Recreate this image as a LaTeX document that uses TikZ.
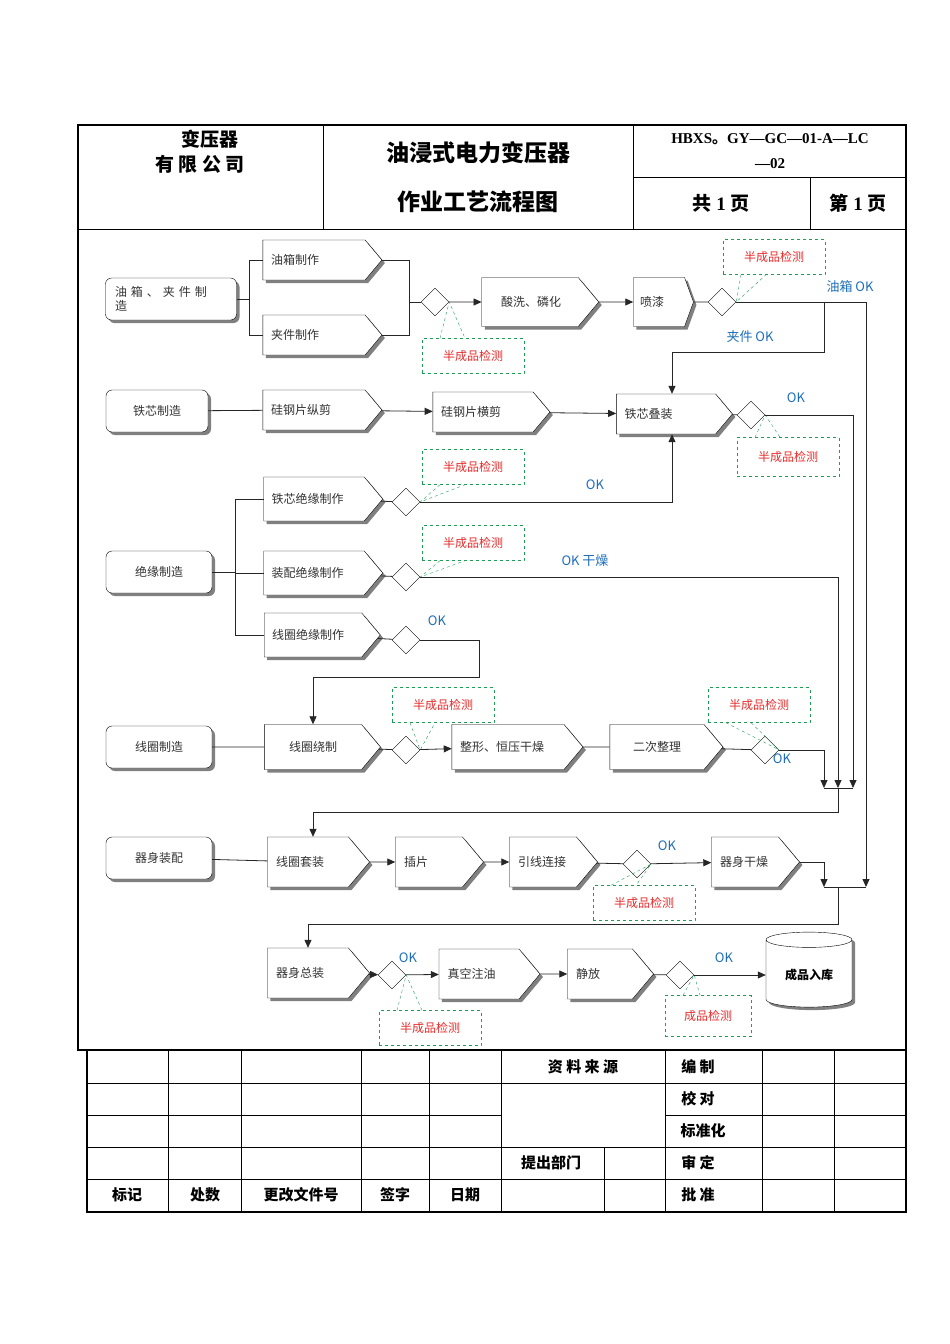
\documentclass[tikz,border=0pt]{standalone}
\usepackage{fontspec}
\setmainfont{Noto Sans CJK SC}
\newfontfamily\serifl{Liberation Serif}
\usetikzlibrary{shapes.symbols,shapes.geometric,shadows,arrows.meta}
\definecolor{okblue}{RGB}{30,110,185}
\definecolor{chkred}{RGB}{230,45,45}
\definecolor{chkgreen}{RGB}{30,155,85}
\newcommand{\fs}{\fontsize{12}{14}\selectfont}
\newcommand{\ptr}[3]{\draw[chk] ([xshift=-33]#1.#3) -- (#2.east) -- ([xshift=-8]#1.#3);}
\tikzset{
    proc/.style={signal, signal to=east, signal pointer angle=100, draw, fill=white,
        drop shadow={shadow xshift=3pt, shadow yshift=-3pt, fill=black!50, opacity=1},
        font=\fs, text=black!80, minimum height=42, align=left, inner xsep=3, xshift=-8},
    start/.style={draw, rounded corners=6, fill=white, font=\fs, text=black!80,
        drop shadow={shadow xshift=3pt, shadow yshift=-3pt, fill=black!50, opacity=1},
        minimum height=42, align=left},
    gate/.style={diamond, draw, fill=white, minimum width=28, minimum height=28, inner sep=0},
    chkbox/.style={draw=chkgreen, dashed, fill=white, text=chkred, font=\fs, minimum width=102, minimum height=35},
    chk/.style={draw=chkgreen, dashed},
    ok/.style={text=okblue, font=\fontsize{13}{15}\selectfont},
    ln/.style={draw=black!85, line width=0.8},
    arr/.style={ln, -{Triangle[length=8,width=7]}},
    hd/.style={font=\bfseries\fontsize{19}{21}\selectfont},
    tb/.style={font=\bfseries\fontsize{15}{17}\selectfont},
}
\begin{document}
\begin{tikzpicture}[x=1pt,y=-1pt]
\useasboundingbox (0,0) rectangle (950,1344);
% header and frame
\draw[line width=1.2] (78,125) rectangle (906,1050);
\draw[line width=0.8] (78,229) -- (906,229);
\draw[line width=0.8] (323,125) -- (323,229) (633,125) -- (633,229) (633,177) -- (906,177) (810,177) -- (810,229);
\node[hd] (co1) at (210,139) {变压器};
\node[hd] (co2) at (200,164) {有 限 公 司};
\node[font=\bfseries\fontsize{23}{25}\selectfont] (ti1) at (478,153) {油浸式电力变压器};
\node[font=\bfseries\fontsize{23}{25}\selectfont] (ti2) at (478,202) {作业工艺流程图};
\node[font=\bfseries\fontsize{15}{17}\selectfont] (no1) at (770,139) {{\serifl HBXS}。{\serifl GY—GC—01-A—LC}};
\node[font=\bfseries\fontsize{15}{17}\selectfont] (no2) at (770,164) {{\serifl —02}};
\node[font=\bfseries\fontsize{19}{21}\selectfont] (pg1) at (721,203) {共 {\serifl 1} 页};
\node[font=\bfseries\fontsize{19}{21}\selectfont] (pg2) at (858,203) {第 {\serifl 1} 页};

% row 1: tank and clamp
\node[start, minimum width=131, text width=112] (A) at (171,299) {油 箱 、 夹 件 制\\造};
\node[proc, minimum width=119, minimum height=40, text width=86] (p1) at (322,260) {油箱制作};
\node[proc, minimum width=119, minimum height=40, text width=86] (p2) at (322,335) {夹件制作};
\node[gate] (d1) at (435,302) {};
\node[proc, minimum width=117, minimum height=49, text width=82] (q1) at (538,302) {\quad 酸洗、磷化};
\node[proc, minimum width=60, minimum height=49, signal pointer angle=140, text width=38] (q2) at (667,302) {喷漆};
\node[gate] (d2) at (722,302) {};
\node[chkbox] (c1) at (473,356) {半成品检测};
\node[chkbox] (c2) at (774,257) {半成品检测};
\coordinate (s1) at (249,299);
\coordinate (j1) at (409,302);
\draw[ln] (A.east) -- (s1);
\draw[ln] (s1) |- (p1.west);
\draw[ln] (s1) |- (p2.west);
\draw[ln] (p1.east) -| (j1);
\draw[ln] (p2.east) -| (j1) -- (d1.west);
\draw[arr] (d1) -- (q1);
\draw[arr] (q1) -- (q2);
\draw[ln] (q2) -- (d2);
\ptr{c1}{d1}{north}
\ptr{c2}{d2}{south}
\node[ok] (l1) at (850,287) {油箱 OK};
\node[ok] (l2) at (750,337) {夹件 OK};

% row 2: core
\node[start, minimum width=102] (B) at (157,411) {铁芯制造};
\node[proc, minimum width=119, minimum height=40, text width=86] (k1) at (322,410) {硅钢片纵剪};
\node[proc, minimum width=117, minimum height=40, text width=84] (k2) at (491,412) {硅钢片横剪};
\node[proc, minimum width=116, minimum height=40, text width=83] (k3) at (674,414) {铁芯叠装};
\node[gate] (d3) at (751,415) {};
\node[chkbox, minimum height=39] (c3) at (788,457) {半成品检测};
\draw[ln] (B) -- (k1);
\draw[arr] (k1) -- (k2);
\draw[arr] (k2) -- (k3);
\draw[ln] (k3) -- (d3);
\ptr{c3}{d3}{north}
\node[ok] (l3) at (796,398) {OK};
\draw[arr] (d2.east) -| (824,352) -| ([xshift=6]k3.north);

% row 3: insulation
\node[start, minimum width=106] (C) at (159,572) {绝缘制造};
\node[proc, minimum width=119, minimum height=44, text width=85] (n1) at (322,499) {铁芯绝缘制作};
\node[proc, minimum width=119, minimum height=44, text width=85] (n2) at (322,573) {装配绝缘制作};
\node[proc, minimum width=116, minimum height=44, text width=82] (n3) at (321,635) {线圈绝缘制作};
\node[gate] (d4) at (406,502) {};
\node[gate] (d5) at (406,577) {};
\node[gate] (d6) at (406,640) {};
\node[chkbox] (c4) at (473,467) {半成品检测};
\node[chkbox] (c5) at (473,543) {半成品检测};
\coordinate (s3) at (235,572);
\draw[ln] (C.east) -- (s3);
\draw[ln] (s3) |- (n1.west);
\draw[ln] (s3) |- (n2.west);
\draw[ln] (s3) |- (n3.west);
\draw[ln] (n1) -- (d4);
\draw[ln] (n2) -- (d5);
\draw[ln] (n3) -- (d6);
\ptr{c4}{d4}{south}
\ptr{c5}{d5}{south}
\node[ok] (l4) at (595,485) {OK};
\node[ok] (l5) at (585,561) {OK 干燥};
\node[ok] (l6) at (437,621) {OK};
\draw[arr] (d4.east) -| ([xshift=6]k3.south);

% row 4: coil
\node[start, minimum width=106] (D) at (159,747) {线圈制造};
\node[proc, minimum width=116, minimum height=45, text width=80, align=center] (w1) at (321,747) {线圈绕制};
\node[proc, minimum width=131, minimum height=45, text width=96] (w2) at (516,747) {整形、恒压干燥};
\node[proc, minimum width=113, minimum height=45, text width=78, align=center] (w3) at (665,747) {二次整理};
\node[gate] (d7) at (406,750) {};
\node[gate] (d8) at (765,750) {};
\node[chkbox] (c7) at (443,705) {半成品检测};
\node[chkbox] (c8) at (759,705) {半成品检测};
\draw[ln] (D) -- (w1);
\draw[ln] (w1) -- (d7);
\draw[arr] (d7) -- (w2);
\draw[ln] (w2) -- (w3);
\draw[ln] (w3) -- (d8);
\ptr{c7}{d7}{south}
\ptr{c8}{d8}{south}
\node[ok] (l8) at (782,759) {OK};
\draw[arr] (d6.east) -- (479,640) -- (479,677) -| (w1.north);

% merge 1
\coordinate (m1a) at (824,788);
\coordinate (m1) at (838,788);
\coordinate (m1b) at (853,788);
\draw[arr] (d8.east) -| (m1a);
\draw[arr] (d5.east) -| (m1);
\draw[arr] (d3.east) -| (m1b);
\draw[ln] (m1a) -- (m1b);

% row 5: body assembly
\node[start, minimum width=106] (E) at (159,858) {器身装配};
\node[proc, minimum width=102, minimum height=50, text width=64] (e1) at (316,862) {线圈套装};
\node[proc, minimum width=88, minimum height=50, text width=50] (e2) at (437,862) {插片};
\node[proc, minimum width=88, minimum height=50, text width=50] (e3) at (551,862) {引线连接};
\node[gate] (d9) at (637,864) {};
\node[proc, minimum width=88, minimum height=50, text width=50] (e4) at (753,862) {器身干燥};
\node[chkbox] (c9) at (644,903) {半成品检测};
\draw[ln] (E) -- (e1);
\draw[arr] (e1) -- (e2);
\draw[arr] (e2) -- (e3);
\draw[ln] (e3) -- (d9);
\draw[arr] (d9) -- (e4);
\ptr{c9}{d9}{north}
\node[ok] (l9) at (667,846) {OK};
\draw[arr] (m1) -- (838,812) -| ([xshift=5]e1.north);

% merge 2
\coordinate (m2a) at (824,887);
\coordinate (m2) at (838,887);
\coordinate (m2b) at (866,887);
\draw[arr] (e4.east) -| (m2a);
\draw[arr] (d2.east) -| (m2b);
\draw[ln] (m2a) -- (m2b);

% row 6: final
\node[proc, minimum width=102, minimum height=50, text width=64] (f1) at (316,973) {器身总装};
\node[gate] (d10) at (392,975) {};
\node[proc, minimum width=101, minimum height=50, text width=63] (f2) at (487,974) {真空注油};
\node[proc, minimum width=86, minimum height=50, text width=48] (f3) at (608,974) {静放};
\node[gate] (d11) at (680,975) {};
\node[cylinder, shape border rotate=90, aspect=0.28, draw, fill=white, minimum width=86, minimum height=75,
      drop shadow={shadow xshift=3pt, shadow yshift=-3pt, fill=black!50, opacity=1},
      font=\bfseries\fs] (g) at (809,975) {成品入库};
\node[chkbox] (c10) at (430,1028) {半成品检测};
\node[chkbox, minimum width=86, minimum height=41] (c11) at (708,1016) {成品检测};
\draw[arr] (f1) -- (d10);
\draw[arr] (d10) -- (f2);
\draw[arr] (f2) -- (f3);
\draw[ln] (f3) -- (d11);
\draw[arr] (d11) -- (g);
\ptr{c10}{d10}{north}
\draw[chk] ([xshift=-25]c11.north) -- (d11.east) -- ([xshift=-8]c11.north);
\node[ok] (l10) at (408,958) {OK};
\node[ok] (l11) at (724,958) {OK};
\draw[arr] (m2) -- (838,924) -| (f1.north);

% bottom table
\draw[line width=1.2] (87,1050) rectangle (906,1212);
\foreach \y in {1083,1147,1179} \draw[line width=0.8] (87,\y) -- (906,\y);
\draw[line width=0.8] (87,1115) -- (501,1115) (665,1115) -- (906,1115);
\foreach \x in {168,241,361,429,501,665,762,834} \draw[line width=0.8] (\x,1050) -- (\x,1212);
\draw[line width=0.8] (604,1147) -- (604,1212);
\node[tb] (t1) at (127,1195) {标记};
\node[tb] (t2) at (205,1195) {处数};
\node[tb] (t3) at (301,1195) {更改文件号};
\node[tb] (t4) at (395,1195) {签字};
\node[tb] (t5) at (465,1195) {日期};
\node[tb] (t6) at (583,1067) {资 料 来 源};
\node[tb] (t7) at (551,1163) {提出部门};
\node[tb] (t8) at (698,1067) {编 制};
\node[tb] (t9) at (698,1099) {校 对};
\node[tb] (t10) at (703,1131) {标准化};
\node[tb] (t11) at (698,1163) {审 定};
\node[tb] (t12) at (698,1195) {批 准};
\end{tikzpicture}
\end{document}
